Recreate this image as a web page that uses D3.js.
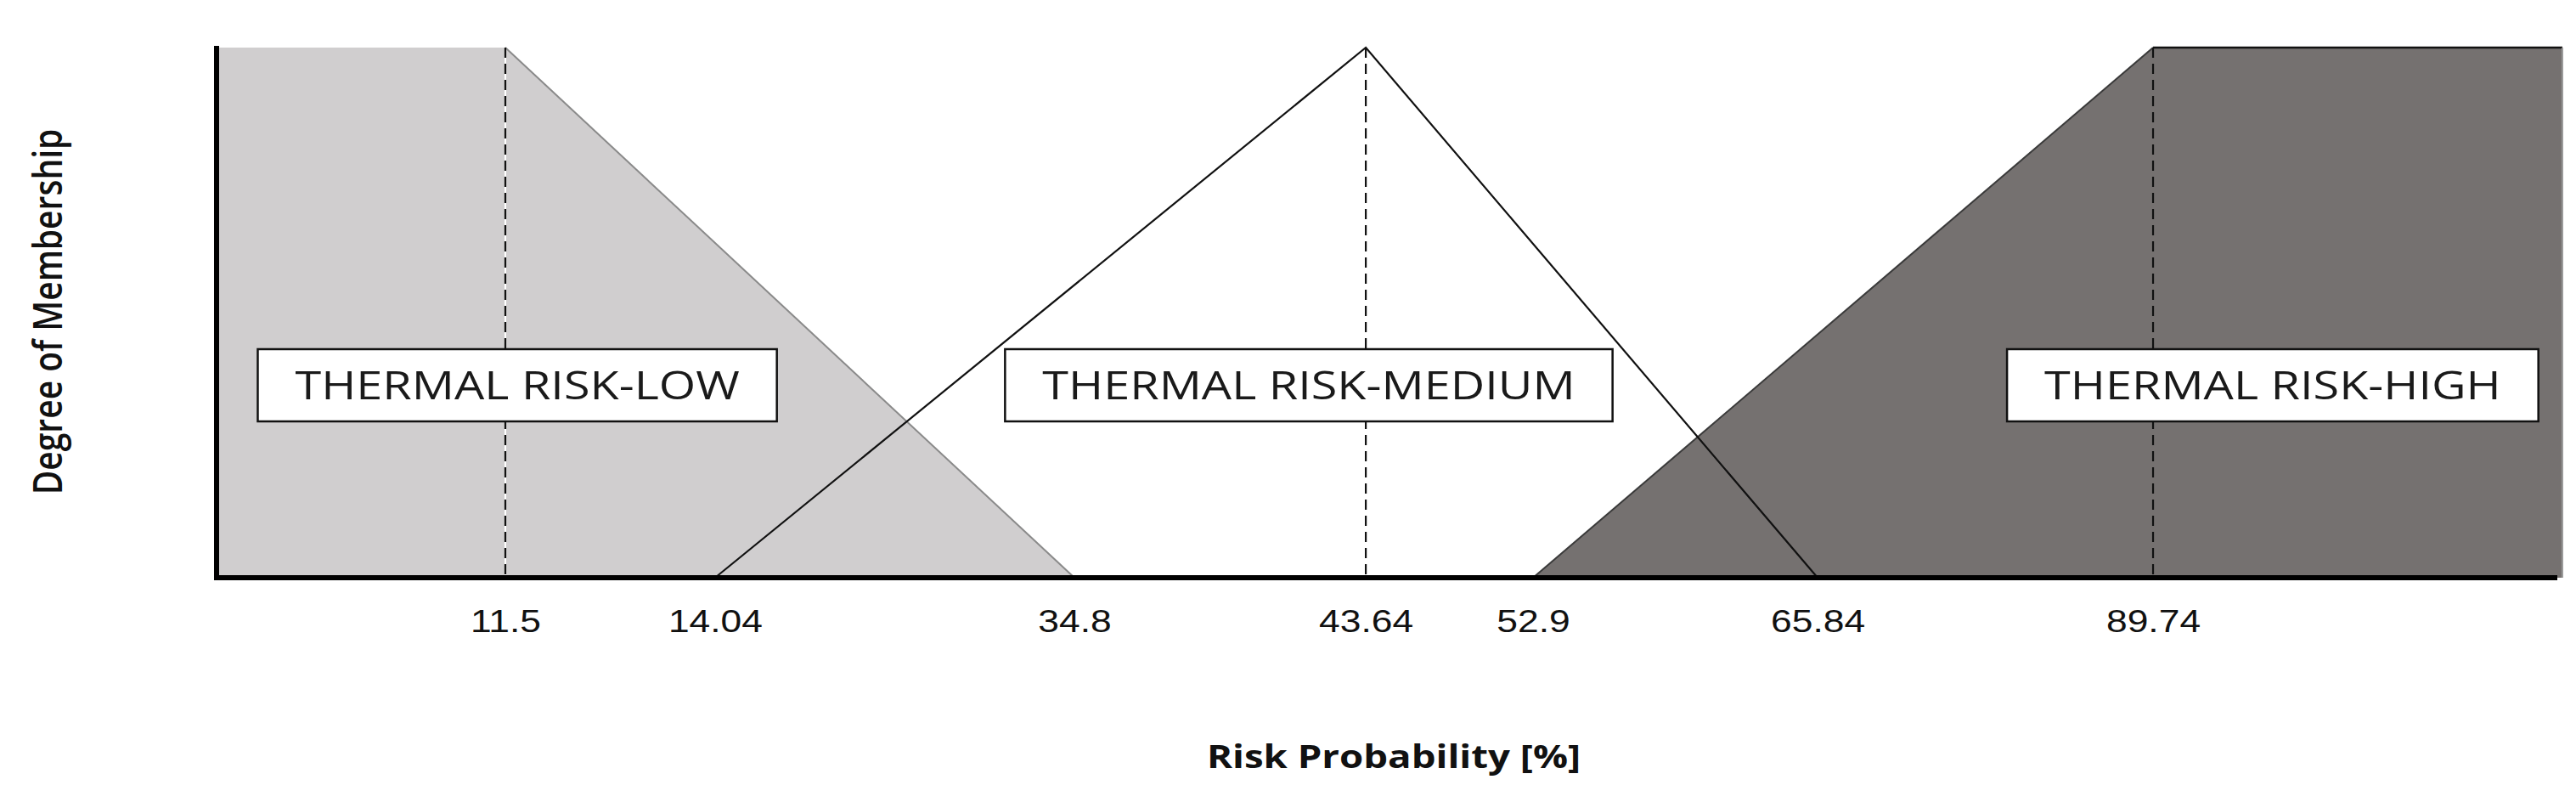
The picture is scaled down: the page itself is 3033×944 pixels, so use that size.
<!DOCTYPE html>
<html>
<head>
<meta charset="utf-8">
<script src="https://cdn.jsdelivr.net/npm/d3@7"></script>
<style>
  html, body { margin: 0; padding: 0; background: #fff; }
  svg { display: block; }
</style>
</head>
<body>
<div id="chart"></div>
<script>
// data
var tickValues = [11.5, 14.04, 34.8, 43.64, 52.9, 65.84, 89.74];
var lowX = [0, 11.5, 34.8];
var lowY = [1, 1, 0];
var mediumX = [14.04, 43.64, 65.84];
var mediumY = [0, 1, 0];
var highX = [52.9, 89.74, 100];
var highY = [0, 1, 1];
var peakValues = [11.5, 43.64, 89.74];
var setNames = ["THERMAL RISK-LOW", "THERMAL RISK-MEDIUM", "THERMAL RISK-HIGH"];

// layout (the original axis is schematic, not to scale)
var width = 3033;
var height = 944;
var plotLeft = 255, plotRight = 3017, plotTop = 56, plotBottom = 680;
var breakFrac = [0, 0.1231, 0.2125, 0.3657, 0.4899, 0.5612, 0.6825, 0.8255, 1];
var labelFrac = [0.1282, 0.4656, 0.8765];
var labelLevel = 0.363;
var stretch = 1.2;

var x = d3.scaleLinear()
    .domain([0].concat(tickValues, [100]))
    .range(breakFrac.map(f => plotLeft + f * (plotRight - plotLeft)));
var y = d3.scaleLinear().domain([0, 1]).range([plotBottom, plotTop]);

var svg = d3.select("#chart").append("svg")
    .attr("width", width)
    .attr("height", height);

function pts(xs, ys) {
    return xs.map((v, i) => [x(v), y(ys[i])]);
}
var line = d3.line();

// low set (light grey)
var low = pts(lowX, lowY);
svg.append("path")
    .attr("d", line([[x(0), y(0)]].concat(low)) + "Z")
    .attr("fill", "#d0cecf");
svg.append("path")
    .attr("d", line(low.slice(1)))
    .attr("fill", "none")
    .attr("stroke", "#8a8a8a")
    .attr("stroke-width", 2);

// high set (dark grey)
var high = pts(highX, highY);
svg.append("path")
    .attr("d", line(high.concat([[x(100), y(0)]])) + "Z")
    .attr("fill", "#757170");
svg.append("path")
    .attr("d", line(high.slice(0, 2)))
    .attr("fill", "none")
    .attr("stroke", "#3a3a3a")
    .attr("stroke-width", 2);
svg.append("path")
    .attr("d", line(high.slice(1)))
    .attr("fill", "none")
    .attr("stroke", "#111")
    .attr("stroke-width", 2.5);
svg.append("path")
    .attr("d", line([[x(100), y(1)], [x(100), y(0)]]))
    .attr("fill", "none")
    .attr("stroke", "#9a9a9a")
    .attr("stroke-width", 2);

// medium set (outline only)
svg.append("path")
    .attr("d", line(pts(mediumX, mediumY)))
    .attr("fill", "none")
    .attr("stroke", "#111")
    .attr("stroke-width", 2.2);

// dashed peak lines
svg.selectAll(".peak-bg").data(peakValues.slice(0, 1)).enter()
    .append("line")
    .attr("x1", d => x(d)).attr("x2", d => x(d))
    .attr("y1", y(1)).attr("y2", y(0))
    .attr("stroke", "#fff")
    .attr("stroke-width", 2);
svg.selectAll(".peak").data(peakValues).enter()
    .append("line")
    .attr("x1", d => x(d)).attr("x2", d => x(d))
    .attr("y1", y(1)).attr("y2", y(0))
    .attr("stroke", "#111")
    .attr("stroke-width", 2.2)
    .attr("stroke-dasharray", "12,7");

// axes
svg.append("line")
    .attr("x1", plotLeft).attr("x2", plotLeft)
    .attr("y1", plotTop - 2).attr("y2", plotBottom + 3)
    .attr("stroke", "#000").attr("stroke-width", 6);
svg.append("line")
    .attr("x1", plotLeft - 3).attr("x2", x(100) - 6)
    .attr("y1", plotBottom).attr("y2", plotBottom)
    .attr("stroke", "#000").attr("stroke-width", 6);

var xAxis = svg.append("g")
    .attr("transform", `translate(0,${plotBottom})`)
    .call(d3.axisBottom(x).tickValues(tickValues).tickSize(0).tickPadding(38)
        .tickFormat(d => String(d)));
xAxis.select(".domain").remove();
xAxis.selectAll("text")
    .attr("font-family", "'Liberation Sans', Arial, sans-serif")
    .attr("font-size", 37)
    .attr("fill", "#111")
    .attr("transform", `scale(${stretch},1)`);

// set labels in boxes
var labelG = svg.selectAll(".set-label").data(setNames).enter()
    .append("g")
    .attr("class", "set-label")
    .attr("transform", (d, i) => `translate(${plotLeft + labelFrac[i] * (plotRight - plotLeft)},${y(labelLevel)})`);
var boxes = labelG.append("rect")
    .attr("fill", "#fff")
    .attr("stroke", "#111")
    .attr("stroke-width", 2.5);
var labelText = labelG.append("text")
    .attr("text-anchor", "middle")
    .attr("y", 16)
    .attr("font-family", "'Open Sans', sans-serif")
    .attr("font-size", 46.5)
    .attr("fill", "#1a1a1a")
    .attr("transform", `scale(${stretch},1)`)
    .text(d => d);
labelText.each(function(d, i) {
    var w = this.getComputedTextLength() * stretch + 88;
    d3.select(boxes.nodes()[i])
        .attr("x", -w / 2).attr("y", -42.5)
        .attr("width", w).attr("height", 85);
});

// axis titles
svg.append("text")
    .attr("transform", `translate(${(plotLeft + plotRight) / 2 + 5},904) scale(${stretch},1)`)
    .attr("text-anchor", "middle")
    .attr("font-family", "'Open Sans', sans-serif")
    .attr("font-weight", 700)
    .attr("font-size", 38)
    .attr("fill", "#111")
    .text("Risk Probability [%]");

svg.append("text")
    .attr("transform", `translate(73,367) rotate(-90) scale(1,${stretch})`)
    .attr("text-anchor", "middle")
    .attr("font-family", "'Open Sans', sans-serif")
    .attr("font-weight", 600)
    .attr("font-size", 39)
    .attr("fill", "#111")
    .text("Degree of Membership");
</script>
</body>
</html>
